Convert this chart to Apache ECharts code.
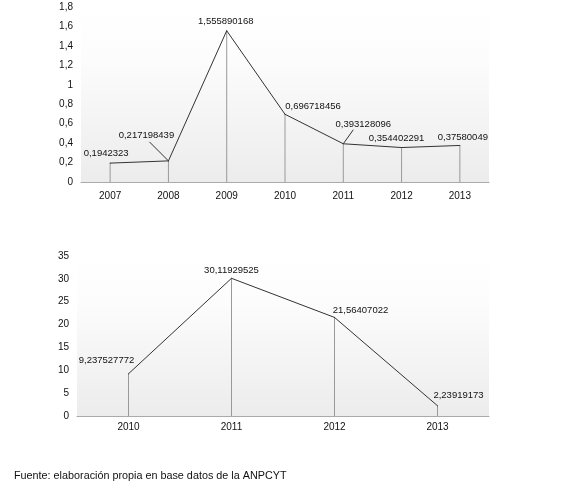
<!DOCTYPE html>
<html>
<head>
<meta charset="utf-8">
<script src="https://cdn.jsdelivr.net/npm/echarts@6/dist/echarts.min.js"></script>
<style>
	html, body {margin: 0; padding: 0; background: #fff;}
	#chart {width: 561px; height: 502px;}
</style>
</head>
<body>
<div id="chart"></div>
<script>
	// datos
	var years1 = ["2007", "2008", "2009", "2010", "2011", "2012", "2013"];
	var values1 = [0.1942323, 0.217198439, 1.555890168, 0.696718456, 0.393128096, 0.354402291, 0.37580049];
	var labels1 = ["0,1942323", "0,217198439", "1,555890168", "0,696718456", "0,393128096", "0,354402291", "0,37580049"];

	var years2 = ["2010", "2011", "2012", "2013"];
	var values2 = [9.237527772, 30.11929525, 21.56407022, 2.23919173];
	var labels2 = ["9,237527772", "30,11929525", "21,56407022", "2,23919173"];

	var source = "Fuente: elaboración propia en base datos de la ANPCYT";

	// ajustes de etiquetas (desplazamiento en px)
	var offsets1 = [[-4, 0], [-22, -16], [-1, 0], [28, 2], [20, -10], [-5, 0], [3, 1]];
	var offsets2 = [[-22, -4], [0, 2], [26, 2], [21, -1]];
	// líneas guía: índice -> vector en px desde el punto
	var guides1 = {1: [-19, -19], 4: [10, -14]};

	var font = "Liberation Sans, Arial, sans-serif";
	var bg = new echarts.graphic.LinearGradient(0, 0, 0, 1, [
		{offset: 0, color: "#ffffff"},
		{offset: 0.3, color: "#fcfcfc"},
		{offset: 1, color: "#ececec"}
	]);

	function lineData(values, labels, offsets) {
		return values.map(function(v, i) {
			return {
				value: v,
				label: {formatter: labels[i], offset: offsets[i]}
			};
		});
	}

	var chart = echarts.init(document.getElementById("chart"));
	var option = {
		animation: false,
		title: {
			text: source,
			left: 9,
			top: 466,
			textStyle: {fontFamily: font, fontSize: 10.8, fontWeight: "normal", color: "#111"}
		},
		grid: [
			{left: 81, right: 72, top: 7, height: 175, show: true, borderWidth: 0, backgroundColor: bg},
			{left: 77, right: 72, top: 256, height: 160, show: true, borderWidth: 0, backgroundColor: bg}
		],
		xAxis: [0, 1].map(function(i) {
			return {
				type: "category",
				gridIndex: i,
				data: i == 0 ? years1 : years2,
				axisLine: {lineStyle: {color: "#aaa"}},
				axisTick: {show: false},
				axisLabel: {color: "#111", fontFamily: font, fontSize: 10, margin: i == 0 ? 9 : 6}
			};
		}),
		yAxis: [
			{type: "value", gridIndex: 0, min: 0, max: 1.8, interval: 0.2},
			{type: "value", gridIndex: 1, min: 0, max: 35, interval: 5}
		].map(function(a) {
			a.axisLine = {show: false};
			a.axisTick = {show: false};
			a.splitLine = {show: false};
			a.axisLabel = {
				color: "#111", fontFamily: font, fontSize: 10, margin: 8,
				formatter: function(v) { return String(Math.round(v * 10) / 10).replace(".", ","); }
			};
			return a;
		}),
		series: [
			{
				type: "bar", xAxisIndex: 0, yAxisIndex: 0, data: values1,
				barWidth: 1, itemStyle: {color: "#999"}, z: 1
			},
			{
				type: "line", xAxisIndex: 0, yAxisIndex: 0,
				data: lineData(values1, labels1, offsets1),
				symbol: "circle", symbolSize: 1,
				itemStyle: {color: "#333"},
				lineStyle: {color: "#333", width: 1},
				label: {show: true, position: "top", distance: 4, color: "#111", fontFamily: font, fontSize: 9.5},
				z: 3
			},
			{
				type: "custom", xAxisIndex: 0, yAxisIndex: 0,
				data: values1.map(function(v, i) { return [i, v]; }),
				renderItem: function(params, api) {
					var g = guides1[params.dataIndex];
					if(!g) return null;
					var p = api.coord([api.value(0), api.value(1)]);
					return {
						type: "line",
						shape: {x1: p[0], y1: p[1], x2: p[0] + g[0], y2: p[1] + g[1]},
						style: {stroke: "#333", lineWidth: 1}
					};
				},
				silent: true, z: 3
			},
			{
				type: "bar", xAxisIndex: 1, yAxisIndex: 1, data: values2,
				barWidth: 1, itemStyle: {color: "#999"}, z: 1
			},
			{
				type: "line", xAxisIndex: 1, yAxisIndex: 1,
				data: lineData(values2, labels2, offsets2),
				symbol: "circle", symbolSize: 1,
				itemStyle: {color: "#333"},
				lineStyle: {color: "#333", width: 1},
				label: {show: true, position: "top", distance: 4, color: "#111", fontFamily: font, fontSize: 9.5},
				z: 3
			}
		]
	};
	chart.setOption(option);
</script>
</body>
</html>
